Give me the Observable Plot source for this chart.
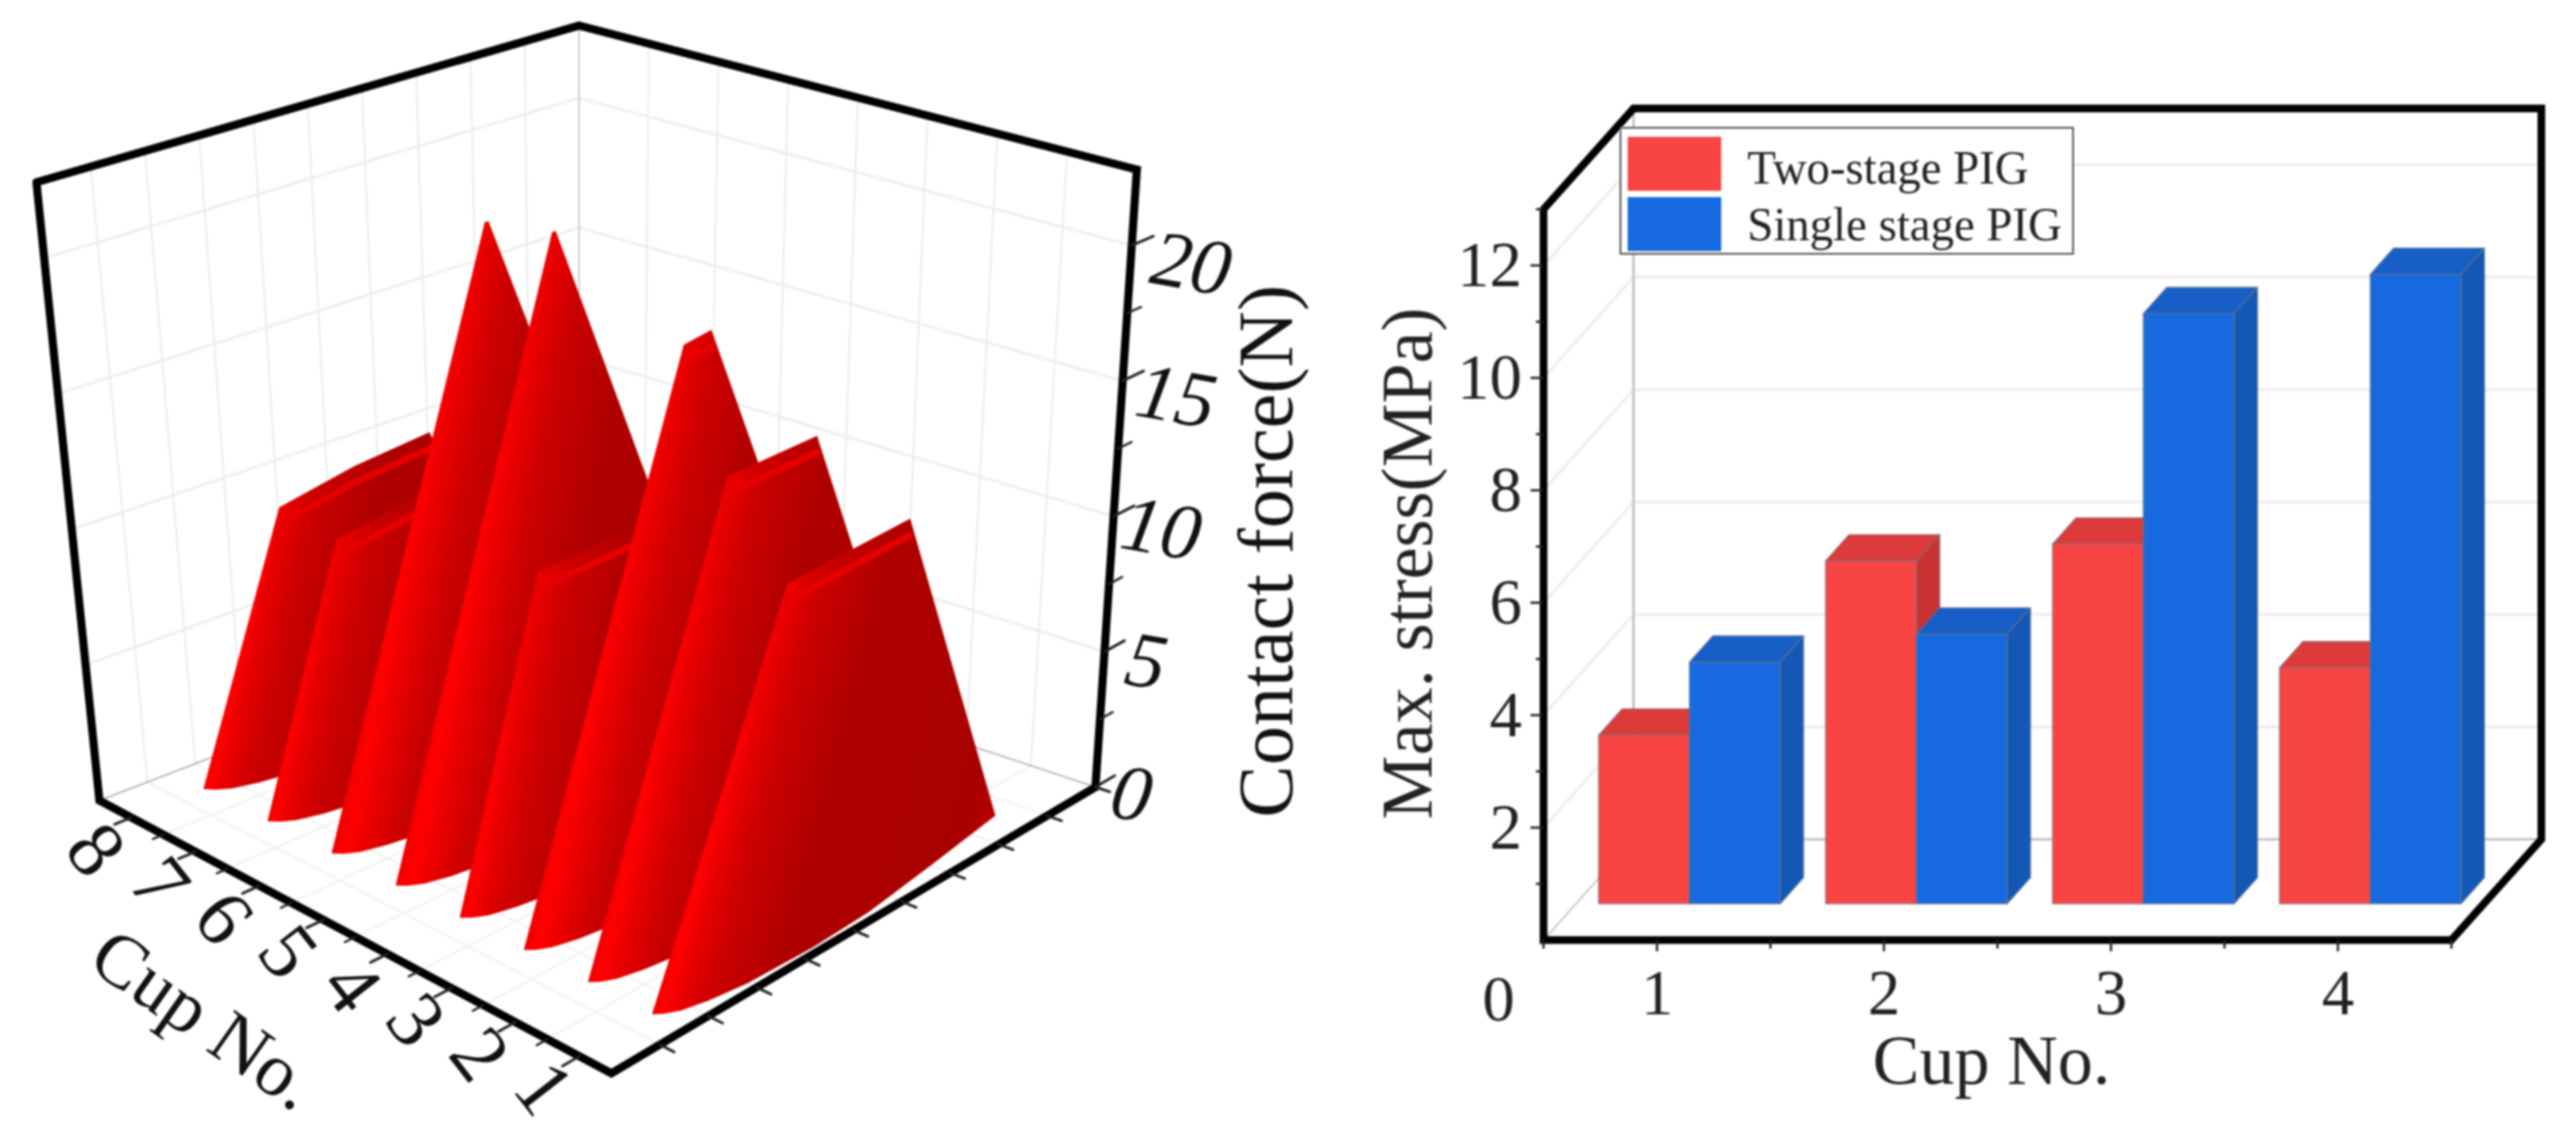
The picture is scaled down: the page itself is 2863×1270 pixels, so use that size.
<!DOCTYPE html>
<html><head><meta charset="utf-8">
<script src="https://cdn.jsdelivr.net/npm/d3@7"></script>
<script src="https://cdn.jsdelivr.net/npm/@observablehq/plot@0.6"></script>
<style>
html,body{margin:0;background:#fff;width:2863px;height:1270px;overflow:hidden}
#page{position:relative;width:2863px;height:1270px;font-family:"Liberation Serif",serif}
#page svg{position:absolute;top:0;overflow:visible;filter:blur(.8px)}
#legend{position:absolute;left:1800px;top:141px;width:505px;height:142px;box-sizing:border-box;background:#fff;border:2.5px solid #555;filter:blur(.8px)}
#legend div{position:absolute;left:7px;width:104px}
#legend span{position:absolute;left:140px;font-size:52px;line-height:60px;white-space:nowrap;color:#222}
</style></head><body><div id="page"></div>
<script>
// ---------- left chart data: contact force along each cup ----------
const cupNumbers = [8,7,6,5,4,3,2,1];
const forceTicks = [0,5,10,15,20];
const forceMinorTicks = [2.5,7.5,12.5,17.5];
const cup8Pos = [0.15,0.296,0.44,0.60,0.86], cup8Force = [0,9.8,10.4,10.5,0];
const cup7Pos = [0.15,0.28,0.60,0.86],       cup7Force = [0,9.75,10.5,0];
const cup6Pos = [0.15,0.453,0.46,0.86],      cup6Force = [0,21.15,21.15,0];
const cup5Pos = [0.15,0.45,0.457,0.86],      cup5Force = [0,21.65,21.65,0];
const cup4Pos = [0.15,0.286,0.66,0.86],      cup4Force = [0,11.5,11.5,0];
const cup3Pos = [0.15,0.436,0.49,0.86],      cup3Force = [0,19.4,19.5,0];
const cup2Pos = [0.15,0.39,0.566,0.86],      cup2Force = [0,15.95,15.9,0];
const cup1Pos = [0.15,0.376,0.626,0.86],     cup1Force = [0,13.2,13.2,0];
const floorPos = [0.15,0.162,0.185,0.23,0.30,0.43,0.55,0.70,0.86];
const floorBow = [0,0.012,0.024,0.035,0.045,0.05,0.045,0.025,0];
// ---------- right chart data ----------
const cups = [1,2,3,4];
const twoStage = [3.0,6.1,6.4,4.2];
const singleStage = [4.3,4.8,10.5,11.2];
const stressTicks = [2,4,6,8,10,12];
const stressMinor = [1,3,5,7,9,11,13];
const halfTicks = [0.5,1.5,2.5,3.5,4.5];

// ---------- box projection of the left chart ----------
const zTop = 22.8;
const L=[110,889],F=[679,1192],B=[643,684],R=[1217,874],TL=[40,202],FT=[657,440],BK=[643,28],TR=[1263,188];
const lerp=(a,b,t)=>[a[0]+(b[0]-a[0])*t,a[1]+(b[1]-a[1])*t];
const proj=(u,v,z)=>lerp(lerp(lerp(L,F,u),lerp(B,R,u),v),lerp(lerp(TL,FT,u),lerp(BK,TR,u),v),z/zTop);
const line3=(pts,o)=>Plot.line(pts.map(p=>proj(...p)),{x:d=>d[0],y:d=>d[1],...o});
const bowAt=d3.scaleLinear().domain(floorPos).range(floorBow);
const cupU=k=>(8-k+0.5)/8;
const profiles={8:[cup8Pos,cup8Force],7:[cup7Pos,cup7Force],6:[cup6Pos,cup6Force],5:[cup5Pos,cup5Force],4:[cup4Pos,cup4Force],3:[cup3Pos,cup3Force],2:[cup2Pos,cup2Force],1:[cup1Pos,cup1Force]};

function gradients(){
  const defs=d3.create("svg:defs");
  for(const k of cupNumbers){
    const [pos,force]=profiles[k];
    const tip=proj(cupU(k),pos[0],0), P=proj(cupU(k)+bowAt(pos[1]),pos[1],force[1]);
    const ex=P[0]-tip[0],ey=P[1]-tip[1],len=Math.hypot(ex,ey);
    const tilt=0.045, a=Math.atan2(ey,ex)-tilt;
    const nx=-Math.sin(a),ny=Math.cos(a);
    const D=len*Math.sin(tilt),W=325,T=D+W;
    const g=defs.append("linearGradient").attr("id","ridge"+k).attr("gradientUnits","userSpaceOnUse")
      .attr("x1",P[0]-nx*D).attr("y1",P[1]-ny*D)
      .attr("x2",P[0]+nx*W).attr("y2",P[1]+ny*W);
    [[0,"#ee0000"],[D*.5,"#ff0000"],[D+6,"#e80000"],[D+36,"#cc0000"],[D+100,"#b00000"],[T*.82,"#a80000"],[T*.92,"#c40000"],[T,"#e00000"]]
      .forEach(([o,c])=>g.append("stop").attr("offset",o/T).attr("stop-color",c));
  }
  return defs.node();
}

const gridColor="#e9ebec";
const leftMarks=[gradients];
for(let i=1;i<=9;i++) leftMarks.push(line3([[0,i/10,0],[0,i/10,zTop]],{stroke:gridColor,strokeWidth:2}),
                                     line3([[0,i/10,0],[1,i/10,0]],{stroke:"#f1f1f1",strokeWidth:2}));
for(let i=1;i<=7;i++) leftMarks.push(line3([[i/8,1,0],[i/8,1,zTop]],{stroke:gridColor,strokeWidth:2}),
                                     line3([[i/8,0,0],[i/8,1,0]],{stroke:"#f1f1f1",strokeWidth:2}));
for(const z of forceTicks.slice(1)) leftMarks.push(line3([[0,0,z],[0,1,z],[1,1,z]],{stroke:"#eeeff0",strokeWidth:3}));
leftMarks.push(line3([[0,0,0],[0,1,0],[1,1,0]],{stroke:"#aaaaaa",strokeWidth:1.5}),
               line3([[0,1,0],[0,1,zTop]],{stroke:"#bbbbbb",strokeWidth:1.5}));
for(const k of cupNumbers){
  const [pos,force]=profiles[k],u=cupU(k);
  const top=pos.map((v,i)=>[u+bowAt(v),v,force[i]]);
  const base=floorPos.slice().reverse().map(v=>[u+bowAt(v),v,0]);
  leftMarks.push(line3([...top,...base],{fill:`url(#ridge${k})`,stroke:"none"}));
  if(k!==6&&k!==5){
    const n=pos.length;
    const stripe=pos.slice(1,n-1).map((v,i)=>[u+bowAt(v),v,force[i+1]-0.6]);
    leftMarks.push(line3(stripe,{stroke:"#e80000",strokeWidth:7}));
  }
}
leftMarks.push(line3([[0,0,zTop],[0,1,zTop],[1,1,zTop],[1,1,0],[1,0,0],[0,0,0],[0,0,zTop]],{stroke:"#000",strokeWidth:9,strokeLinejoin:"miter",strokeMiterlimit:10}));
// ticks
for(let i=1;i<16;i++) leftMarks.push(line3([[i/16,0,0],[i/16,i%2?-0.035:-0.022,0]],{stroke:"#222",strokeWidth:i%2?3:2.5}));
for(let i=1;i<=10;i++) leftMarks.push(line3([[1,i/10,0],[1.028,i/10,0]],{stroke:"#222",strokeWidth:3}));
for(const z of forceTicks) leftMarks.push(line3([[1,1,z],[1,1.04,z]],{stroke:"#222",strokeWidth:3}));
for(const z of forceMinorTicks) leftMarks.push(line3([[1,1,z],[1,1.026,z]],{stroke:"#222",strokeWidth:2.5}));
const serif="Liberation Serif";
leftMarks.push(
  Plot.text(forceTicks,{x:z=>proj(1,1,z)[0]+40+z*1.3,y:z=>proj(1,1,z)[1]+8+z*.65,text:z=>String(z),fontFamily:serif,fontStyle:"italic",fontSize:88,rotate:10,fill:"#111"}),
  Plot.text(cupNumbers,{x:k=>proj(cupU(k),0,0)[0],y:k=>proj(cupU(k),0,0)[1],dx:-40,dy:36,text:k=>String(k),fontFamily:serif,fontSize:90,rotate:52,fill:"#111"}),
  Plot.text(["Cup No."],{x:()=>proj(.5,0,0)[0],y:()=>proj(.5,0,0)[1],dx:-168,dy:92,text:d=>d,fontFamily:serif,fontSize:84,rotate:35,fill:"#111"}),
  Plot.text(["Contact force(N)"],{x:()=>1408,y:()=>612,text:d=>d,fontFamily:serif,fontSize:87,rotate:-90,fill:"#111"})
);
const leftPlot=Plot.plot({width:1500,height:1270,margin:0,x:{domain:[0,1500],range:[0,1500],axis:null},y:{domain:[0,1270],range:[0,1270],axis:null},marks:leftMarks});
leftPlot.style.left="0px";leftPlot.style.background="transparent";

// ---------- right chart: oblique box in data units ----------
const dX=100/252.25, dY=112/62.5;
const at=(x,y,d)=>({x:x+d*dX,y:y+d*dY});
const poly=(pts,fill,o={})=>Plot.line([...pts,pts[0]],{x:"x",y:"y",fill,stroke:"#6b7280",strokeWidth:1.3,strokeOpacity:.7,...o});
const w3=(pts,o)=>Plot.line(pts,{x:"x",y:"y",...o});
const rm=[];
for(const t of stressTicks) rm.push(w3([at(.5,t,0),at(.5,t,1),at(4.5,t,1)],{stroke:"#ececec",strokeWidth:3}));
rm.push(w3([at(.5,13,1),at(.5,0,1),at(4.5,0,1)],{stroke:"#bdbdbd",strokeWidth:2.5}),
        w3([at(.5,0,0),at(.5,0,1)],{stroke:"#c8c8c8",strokeWidth:2}));
function bar(x0,x1,v,front,top,side){
  const d0=.36,d1=.62;
  rm.push(poly([at(x1,0,d0),at(x1,0,d1),at(x1,v,d1),at(x1,v,d0)],side),
          poly([at(x0,v,d0),at(x1,v,d0),at(x1,v,d1),at(x0,v,d1)],top),
          poly([at(x0,0,d0),at(x1,0,d0),at(x1,v,d0),at(x0,v,d0)],front));
}
cups.forEach((c,i)=>{
  bar(c-.4,c,twoStage[i],"#f94444","#dd3a3a","#c93232");
  bar(c,c+.4,singleStage[i],"#1769df","#175fc6","#1258b4");
});
rm.push(w3([at(.5,0,0),at(.5,13,0),at(.5,13,1),at(4.5,13,1),at(4.5,0,1),at(4.5,0,0),at(.5,0,0),at(.5,13,0)],{stroke:"#000",strokeWidth:8.5,strokeLinejoin:"miter",strokeMiterlimit:10}));
rm.push(
  Plot.axisY({ticks:stressTicks,tickSize:14,tickPadding:10,fontSize:72,fontFamily:serif,strokeWidth:2.5,label:null,color:"#222",tickFormat:d=>String(d)}),
  Plot.axisY({ticks:stressMinor,tickSize:8,fill:"none",strokeWidth:2.5,label:null,stroke:"#222"}),
  Plot.axisX({ticks:cups,tickSize:13,tickPadding:18,fontSize:72,fontFamily:serif,strokeWidth:2.5,label:null,color:"#222",tickFormat:d=>String(d)}),
  Plot.axisX({ticks:halfTicks,tickSize:10,fill:"none",strokeWidth:2.5,label:null,stroke:"#222"}),
  Plot.text(["0"],{x:()=>.5,y:()=>0,dx:-50,dy:66,text:d=>d,fontFamily:serif,fontSize:72,fill:"#222"}),
  Plot.text(["Cup No."],{x:()=>2.474,y:()=>0,dx:0,dy:135,text:d=>d,fontFamily:serif,fontSize:78,fill:"#222"}),
  Plot.text(["Max. stress(MPa)"],{x:()=>.5,y:()=>6.7,dx:-150,text:d=>d,fontFamily:serif,fontSize:80,rotate:-90,fill:"#222"})
);
const rightPlot=Plot.plot({width:1363,height:1270,marginLeft:215,marginRight:139,marginTop:232,marginBottom:226,
  x:{domain:[.5,4.5],axis:null},y:{domain:[0,13],axis:null},marks:rm});
rightPlot.style.left="1500px";rightPlot.style.background="transparent";

const page=document.getElementById("page");
page.append(leftPlot,rightPlot);
const lg=document.createElement("div");lg.id="legend";
lg.innerHTML=`<div style="top:9px;height:60px;background:#f94444"></div><span style="top:14px">Two-stage PIG</span>
<div style="top:76px;height:60px;background:#1769df"></div><span style="top:77px">Single stage PIG</span>`;
page.append(lg);
</script></body></html>
